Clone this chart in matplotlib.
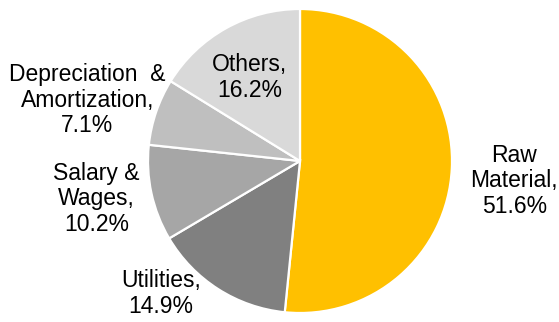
import numpy as np
import matplotlib
matplotlib.use("Agg")
import matplotlib.pyplot as plt

# cost breakdown, clockwise from 12 o'clock
labels = ['Raw\nMaterial,\n51.6%', 'Utilities,\n14.9%', 'Salary &\nWages,\n10.2%',
          'Depreciation  &\nAmortization,\n7.1%', 'Others,\n16.2%']
shares = [51.6, 14.9, 10.2, 7.1, 16.2]
colors = ['#FFC000', '#808080', '#A6A6A6', '#BFBFBF', '#D9D9D9']

# label placement (x, y) in pie radii
label_pos = [(1.41, -0.13), (-0.915, -0.87), (-1.34, -0.25), (-1.40, 0.40), (-0.33, 0.55)]

plt.rcParams['font.family'] = ['Liberation Sans', 'DejaVu Sans']

fig = plt.figure(figsize=(5.59, 3.22), dpi=100)
ax = fig.add_axes([0, 0, 1, 1])

ax.pie(shares, colors=colors, startangle=90, counterclock=False, radius=1.0,
       wedgeprops=dict(edgecolor='white', linewidth=1.6))

for lab, (x, y) in zip(labels, label_pos):
    ax.text(x, y, lab, ha='center', va='center', fontsize=16.5,
            linespacing=1.15, color='black')

ax.set_xlim(-300 / 152, 259 / 152)
ax.set_ylim(-161 / 152, 161 / 152)
ax.set_aspect('equal')
ax.axis('off')

fig.savefig('out.png', dpi=100)
